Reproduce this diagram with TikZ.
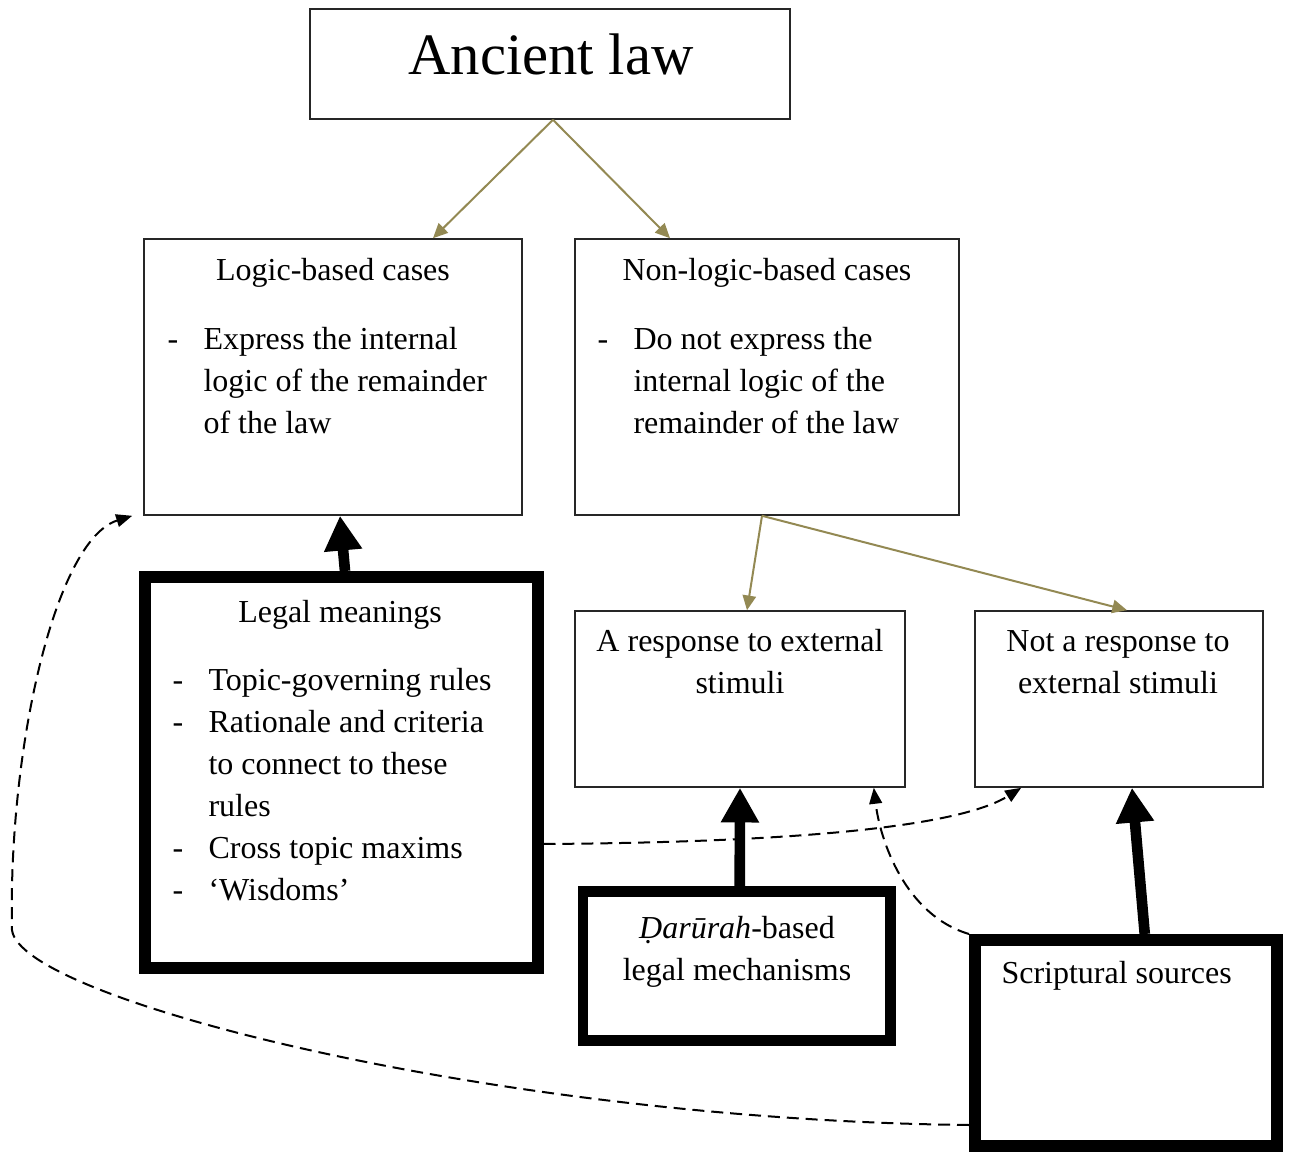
\documentclass[tikz,border=0pt]{standalone}
\usepackage{fontspec}
\setmainfont{Liberation Serif}
\usetikzlibrary{arrows.meta,calc}
\definecolor{lawolive}{RGB}{147,137,83}
% body type of the chart: 12pt
\newcommand\lawfont{\fontsize{12}{15.75}\selectfont}
% settings for the hyphen lists inside the boxes
\newcommand\listsetup{\raggedright\leftskip=13.5pt\parindent=0pt\spaceskip=3pt plus 0.5pt\relax}
% hyphen hanging in the left margin; \dashitem also starts a new entry
\newcommand\dashmark{\llap{\makebox[13.5pt][l]{-}}}
\newcommand\dashitem{\par\leavevmode\dashmark}
\begin{document}
\begin{tikzpicture}[x=0.375pt,y=-0.375pt,
  boxsize/.style 2 args={minimum width=#1*0.375pt, minimum height=#2*0.375pt},
  thinbox/.style={draw=black!85, line width=0.6pt, inner sep=0pt},
  heavybox/.style={draw=black, line width=4.5pt, inner sep=0pt},
  lbl/.style={inner sep=0pt, font=\lawfont},
  listtxt/.style={lbl, text width=340*0.375pt, anchor=base west},
  branch/.style={draw=lawolive, line width=0.75pt, -{Triangle[width=5pt,length=5.5pt]}},
  feed/.style={line width=4pt, -{Triangle[width=13.5pt,length=13pt]}},
  link/.style={line width=0.75pt, dash pattern=on 4.5pt off 2.6pt, -{Triangle[width=4.8pt,length=6pt]}}]
\useasboundingbox (0,0) rectangle (1291,1153);

% boxes
\node[thinbox, boxsize={480}{110}] (title) at (550,64) {};
\node[thinbox, boxsize={378}{276}] (logic) at (333,377) {};
\node[thinbox, boxsize={384}{276}] (nonlogic) at (767,377) {};
\node[heavybox, boxsize={393}{391}] (legal) at (341,772.5) {};
\node[thinbox, boxsize={330}{176}] (resp) at (740,699) {};
\node[thinbox, boxsize={288}{176}] (notresp) at (1119,699) {};
\node[heavybox, line width=4.1pt, boxsize={307.5}{149}] (darurah) at (736.75,966) {};
\node[heavybox, boxsize={301.5}{206}] (script) at (1125.75,1043) {};

% texts
\node[inner sep=0pt, anchor=base, font=\fontsize{22}{26}\selectfont] (titletxt) at (551,75) {Ancient law};

\node[lbl, anchor=base] (logichead) at (333,280) {Logic-based cases};
\node[listtxt] (logiclist) at (167,349) {\listsetup
  \dashmark Express the internal\\logic of the remainder\\of the law\par};

\node[lbl, anchor=base] (nonlogichead) at (767,280) {Non-logic-based cases};
\node[listtxt] (nonlogiclist) at (597,349) {\listsetup
  \dashmark Do not express the\\internal logic of the\\remainder of the law\par};

\node[lbl, anchor=base] (legalhead) at (340,622) {Legal meanings};
\node[listtxt] (legallist) at (172,690) {\listsetup
  \dashmark Topic-governing rules
  \dashitem Rationale and criteria\\to connect to these\\rules
  \dashitem Cross topic maxims
  \dashitem ‘Wisdoms’\par};

% two-line centred labels are placed by the baseline of their last line
\node[lbl, anchor=base, align=center] (resptxt) at (740,693) {A response to external\\stimuli};
\node[lbl, anchor=base, align=center] (notresptxt) at (1118,693) {Not a response to\\external stimuli};
\node[lbl, anchor=base, align=center] (daruratxt) at (737,980) {\textit{Ḍarūrah}-based\\legal mechanisms};
\node[lbl, anchor=base west] (scripttxt) at (1001,983) {Scriptural sources};

% olive branches
\draw[branch] ($(title.south)+(3,0)$) -- ($(logic.north)+(100,0)$);
\draw[branch] ($(title.south)+(3,0)$) -- ($(nonlogic.north)+(-97,0)$);
\draw[branch] ($(nonlogic.south)+(-5,0)$) -- ($(resp.north)+(7,0)$);
\draw[branch] ($(nonlogic.south)+(-5,0)$) -- ($(notresp.north)+(8,0)$);

% heavy feeds
\draw[feed] ($(legal.north)+(4,0)$) -- ($(logic.south)+(7,0)$);
\draw[feed] ($(darurah.north)+(3,0)$) -- (resp.south);
\draw[feed] ($(script.north)+(19,0)$) -- ($(notresp.south)+(13,0)$);

% dashed links
\draw[link] ($(legal.east)+(0,71.5)$) .. controls (850,842) and (970,820) .. ($(notresp.south west)+(47,0)$);
\draw[link] (script.north west) .. controls (905,915) and (880,840) .. ($(resp.south east)+(-32,0)$);
\draw[link] ($(script.west)+(0,82)$) .. controls (500,1120) and (20,1000) .. (12,930)
  .. controls (8,750) and (55,540) .. ($(logic.south west)+(-11,0)$);
\end{tikzpicture}
\end{document}
